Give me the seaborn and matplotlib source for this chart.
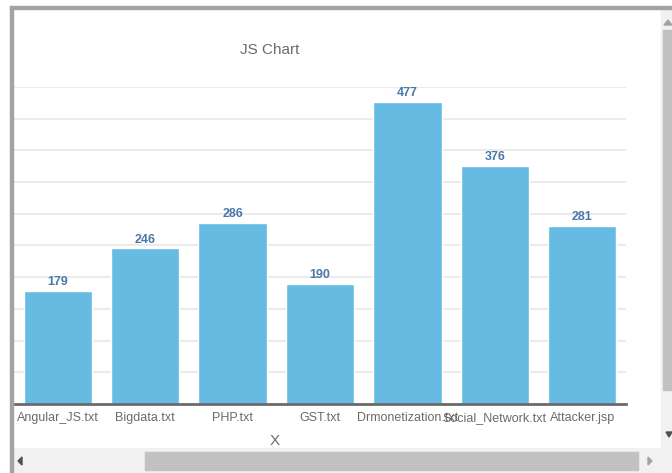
import matplotlib
matplotlib.use("Agg")
import matplotlib.pyplot as plt
import seaborn as sns
import pandas as pd
from matplotlib.patches import Rectangle, Polygon

categories = ["Angular_JS.txt", "Bigdata.txt", "PHP.txt", "GST.txt",
              "Drmonetization.txt", "Social_Network.txt", "Attacker.jsp"]
values = [179, 246, 286, 190, 477, 376, 281]

sns.set_theme(style="white")
plt.rcParams['font.family'] = ['Liberation Sans Narrow', 'Liberation Sans', 'DejaVu Sans']

W, H = 672, 473
fig = plt.figure(figsize=(W / 100, H / 100), dpi=100)
fig.patch.set_facecolor("white")

def fx(x):
    return x / W

def fy(y):
    return 1 - y / H

ax = fig.add_axes([fx(14), fy(404), fx(626) - fx(14), fy(87) - fy(404)])
df = pd.DataFrame({"file": categories, "count": values})
sns.barplot(data=df, x="file", y="count", color="#65bbe2", saturation=1,
            width=0.78, ax=ax)
ax.set_xlim(-0.5, len(categories) - 0.5)
ax.set_ylim(0, 500)
ax.set_yticks(range(50, 501, 50))
ax.yaxis.grid(True, color="#ebebeb", linewidth=1.5)
ax.set_axisbelow(True)
ax.tick_params(axis="y", left=False, labelleft=False)
ax.tick_params(axis="x", bottom=False, labelsize=9, labelcolor="#6b6b6b", pad=0)
for s in ["top", "right", "left"]:
    ax.spines[s].set_visible(False)
ax.spines["bottom"].set_color("#6a6a6a")
ax.spines["bottom"].set_linewidth(2)
ax.set_ylabel("")
ax.set_xlabel("X", fontsize=11, color="#6b6b6b")
ax.xaxis.set_label_coords((275 - 14) / 612, -0.095)

for i, v in enumerate(values):
    ax.text(i, v + 4, str(v), ha="center", va="bottom", fontsize=9,
            color="#4a78a8", fontweight="bold")

fig.text(fx(270), fy(50), "JS Chart", ha="center", va="center",
         fontsize=11, color="#6b6b6b")

# frame borders
fig.patches.append(Rectangle((fx(10), fy(473)), fx(3), fy(6) - fy(473),
                             transform=fig.transFigure, color="#a3a3a3", zorder=5))
fig.patches.append(Rectangle((fx(10), fy(9)), fx(672) - fx(10), fy(6) - fy(9),
                             transform=fig.transFigure, color="#a3a3a3", zorder=5))
# right scrollbar
fig.patches.append(Rectangle((fx(661), fy(447)), fx(672) - fx(661), fy(9) - fy(447),
                             transform=fig.transFigure, color="#f1f1f1", zorder=4))
fig.patches.append(Rectangle((fx(663), fy(390)), fx(672) - fx(663), fy(30) - fy(390),
                             transform=fig.transFigure, color="#c1c1c1", zorder=5))
fig.patches.append(Polygon([(fx(664), fy(25)), (fx(672), fy(25)), (fx(668), fy(20))],
                           closed=True, transform=fig.transFigure, color="#a3a3a3", zorder=6))
fig.patches.append(Polygon([(fx(666), fy(432)), (fx(672), fy(432)), (fx(669), fy(437))],
                           closed=True, transform=fig.transFigure, color="#505050", zorder=6))
# bottom scrollbar
fig.patches.append(Rectangle((fx(13), fy(473)), fx(672) - fx(13), fy(448) - fy(473),
                             transform=fig.transFigure, color="#f1f1f1", zorder=4))
fig.patches.append(Rectangle((fx(145), fy(470)), fx(638) - fx(145), fy(452) - fy(470),
                             transform=fig.transFigure, color="#c1c1c1", zorder=5))
fig.patches.append(Polygon([(fx(22), fy(457)), (fx(22), fy(465)), (fx(18), fy(461))],
                           closed=True, transform=fig.transFigure, color="#505050", zorder=6))
fig.patches.append(Polygon([(fx(648), fy(457)), (fx(648), fy(465)), (fx(652), fy(461))],
                           closed=True, transform=fig.transFigure, color="#a3a3a3", zorder=6))

fig.savefig("out.png", dpi=100, facecolor="white")
